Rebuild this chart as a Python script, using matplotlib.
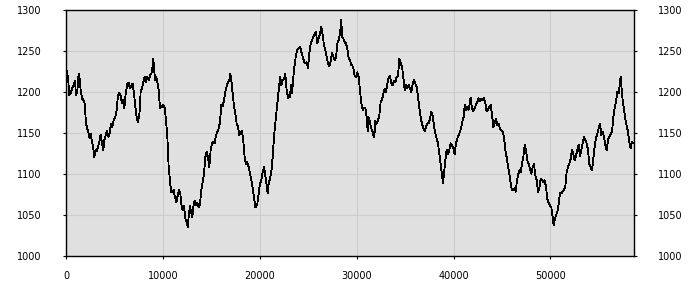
import matplotlib
matplotlib.use('Agg')
import matplotlib.pyplot as plt
import numpy as np

# data, split in six pieces along x
x1 = [0, 206, 344, 482, 619, 826, 929, 1032, 1170, 1307, 1410, 1514, 1651, 1789, 1926, 2064, 2202, 2339, 2442, 2546,
      2683, 2821, 2924, 3062, 3165, 3302, 3440, 3578, 3715, 3853, 3956, 4094, 4232, 4369, 4507, 4644, 4782, 4920, 5092,
      5229, 5366, 5504, 5642, 5779, 5917, 6020, 6158, 6330, 6468, 6605, 6743, 6880, 7018, 7155, 7293, 7396, 7534, 7637,
      7706, 7843, 7981, 8118, 8256, 8394, 8531, 8669, 8806, 8944, 9013, 9116, 9220, 9323, 9426, 9564, 9701]
y1 = [1230, 1218, 1196, 1198, 1204, 1210, 1213, 1196, 1202, 1222, 1216, 1202, 1192, 1190, 1186, 1161, 1155, 1149, 1143,
      1149, 1139, 1131, 1120, 1129, 1127, 1133, 1139, 1148, 1137, 1129, 1141, 1147, 1152, 1145, 1150, 1161, 1157, 1165,
      1169, 1178, 1196, 1199, 1195, 1186, 1190, 1180, 1198, 1210, 1211, 1204, 1208, 1210, 1198, 1182, 1169, 1163, 1169,
      1180, 1202, 1204, 1212, 1218, 1212, 1218, 1214, 1220, 1222, 1231, 1240, 1224, 1214, 1218, 1212, 1202, 1180]

x2 = [9907, 10011, 10183, 10320, 10458, 10595, 10733, 10836, 10974, 11111, 11249, 11387, 11524, 11662, 11799, 11903,
      12040, 12178, 12315, 12453, 12556, 12660, 12797, 12900, 13038, 13141, 13279, 13416, 13554, 13691, 13829, 13967,
      14104, 14242, 14379, 14517, 14655, 14792, 14930, 15067, 15205, 15343, 15480, 15618, 15755, 15893, 16031, 16168,
      16306, 16443, 16581, 16719, 16856, 16959, 17063, 17200, 17338, 17475, 17613, 17751, 17888, 18026, 18163, 18301,
      18439, 18576, 18714, 18851, 18989, 19127, 19264, 19402, 19539]
y2 = [1182, 1184, 1181, 1165, 1145, 1108, 1092, 1078, 1078, 1080, 1071, 1065, 1073, 1080, 1076, 1063, 1055, 1061, 1045,
      1041, 1035, 1047, 1061, 1053, 1047, 1059, 1067, 1061, 1064, 1059, 1063, 1080, 1090, 1100, 1120, 1127, 1120, 1108,
      1129, 1137, 1139, 1137, 1147, 1151, 1155, 1163, 1184, 1182, 1190, 1200, 1207, 1212, 1214, 1222, 1214, 1198, 1182,
      1173, 1161, 1157, 1147, 1150, 1152, 1139, 1120, 1112, 1114, 1108, 1100, 1092, 1082, 1071, 1059]

x3 = [19608, 19746, 19883, 20021, 20158, 20296, 20434, 20571, 20709, 20812, 20915, 21053, 21190, 21328, 21466, 21603,
      21741, 21878, 22016, 22119, 22222, 22360, 22498, 22635, 22773, 22910, 23014, 23117, 23220, 23323, 23461, 23598,
      23736, 23874, 24011, 24149, 24286, 24424, 24562, 24699, 24837, 24974, 25112, 25250, 25387, 25525, 25662, 25800,
      25938, 26075, 26213, 26350, 26488, 26626, 26763, 26901, 27038, 27176, 27314, 27451, 27589, 27726, 27864, 28002,
      28139, 28277, 28414, 28483, 28621, 28758, 28896, 29034, 29171, 29309, 29446]
y3 = [1059, 1063, 1076, 1088, 1092, 1102, 1108, 1098, 1086, 1076, 1088, 1094, 1102, 1120, 1145, 1161, 1178, 1194, 1210,
      1218, 1208, 1214, 1216, 1222, 1202, 1192, 1196, 1194, 1208, 1198, 1218, 1233, 1245, 1251, 1253, 1255, 1249, 1243,
      1237, 1235, 1236, 1229, 1247, 1259, 1263, 1267, 1271, 1273, 1259, 1265, 1271, 1279, 1269, 1257, 1251, 1243, 1235,
      1231, 1237, 1247, 1243, 1239, 1241, 1259, 1263, 1271, 1288, 1267, 1265, 1261, 1259, 1253, 1241, 1239, 1233]

x4 = [29515, 29653, 29790, 29928, 30066, 30203, 30341, 30478, 30616, 30754, 30891, 31029, 31132, 31235, 31373, 31510,
      31648, 31717, 31820, 31923, 32061, 32198, 32336, 32474, 32611, 32749, 32886, 33024, 33162, 33299, 33437, 33574,
      33712, 33849, 33987, 34125, 34262, 34400, 34537, 34675, 34813, 34950, 35088, 35225, 35363, 35501, 35638, 35776,
      35913, 36051, 36189, 36326, 36464, 36601, 36739, 36877, 37014, 37152, 37289, 37427, 37565, 37702, 37840, 37977,
      38115, 38253, 38390, 38528, 38665, 38803, 38906, 39010, 39147, 39285]
y4 = [1233, 1229, 1220, 1218, 1224, 1218, 1202, 1186, 1178, 1180, 1181, 1169, 1152, 1169, 1163, 1155, 1151, 1147, 1145,
      1165, 1161, 1165, 1171, 1188, 1190, 1198, 1204, 1200, 1210, 1218, 1220, 1210, 1208, 1213, 1212, 1218, 1220, 1240,
      1235, 1231, 1218, 1202, 1208, 1204, 1209, 1204, 1200, 1210, 1214, 1210, 1206, 1194, 1180, 1169, 1161, 1155, 1152,
      1157, 1161, 1162, 1167, 1176, 1171, 1159, 1149, 1143, 1137, 1124, 1112, 1098, 1089, 1100, 1116, 1129]

x5 = [39422, 39560, 39698, 39835, 39973, 40110, 40248, 40386, 40523, 40661, 40798, 40936, 41074, 41142, 41280, 41418,
      41555, 41693, 41762, 41899, 42037, 42174, 42312, 42450, 42587, 42725, 42862, 43000, 43138, 43275, 43413, 43550,
      43688, 43826, 43963, 44101, 44238, 44376, 44514, 44651, 44789, 44926, 45064, 45202, 45339, 45477, 45614, 45752,
      45890, 46027, 46165, 46302, 46405, 46508, 46646, 46784, 46921, 47059, 47196, 47334, 47472, 47609, 47747, 47884,
      48022, 48160, 48297, 48435, 48572, 48710, 48848, 48985, 49123, 49260]
y5 = [1124, 1129, 1137, 1135, 1131, 1124, 1137, 1143, 1147, 1151, 1157, 1165, 1171, 1184, 1178, 1182, 1178, 1188, 1193,
      1180, 1176, 1180, 1184, 1188, 1192, 1189, 1191, 1190, 1192, 1186, 1176, 1178, 1182, 1184, 1173, 1157, 1162, 1167,
      1159, 1161, 1155, 1153, 1151, 1145, 1129, 1120, 1110, 1100, 1088, 1080, 1080, 1082, 1078, 1088, 1098, 1104, 1102,
      1112, 1120, 1135, 1129, 1116, 1112, 1106, 1100, 1108, 1112, 1098, 1092, 1078, 1082, 1094, 1092, 1090]

x6 = [49399, 49536, 49674, 49812, 49949, 50087, 50224, 50328, 50431, 50568, 50706, 50844, 50981, 51119, 51256, 51394,
      51532, 51669, 51807, 51944, 52082, 52220, 52357, 52495, 52632, 52770, 52908, 53045, 53183, 53320, 53458, 53596,
      53733, 53871, 54008, 54146, 54284, 54421, 54559, 54696, 54834, 54972, 55109, 55247, 55384, 55522, 55660, 55797,
      55935, 56072, 56210, 56348, 56485, 56623, 56760, 56898, 57036, 57173, 57242, 57311, 57448, 57586, 57724, 57861,
      57999, 58136, 58274, 58412, 58549, 58618]
y6 = [1092, 1084, 1069, 1064, 1061, 1059, 1047, 1037, 1043, 1049, 1053, 1063, 1076, 1076, 1078, 1080, 1084, 1102, 1108,
      1112, 1118, 1129, 1124, 1116, 1122, 1129, 1135, 1122, 1129, 1137, 1145, 1141, 1137, 1129, 1112, 1108, 1104, 1118,
      1133, 1143, 1149, 1155, 1161, 1147, 1151, 1145, 1135, 1129, 1141, 1145, 1148, 1151, 1169, 1180, 1188, 1200, 1198,
      1212, 1218, 1208, 1190, 1178, 1167, 1159, 1151, 1139, 1131, 1139, 1137, 1137]

y_ticks = [1000, 1050, 1100, 1150, 1200, 1250, 1300]
x_ticks = [0, 10000, 20000, 30000, 40000, 50000]

x = np.concatenate([x1, x2, x3, x4, x5, x6])
y = np.concatenate([y1, y2, y3, y4, y5, y6])

fig = plt.figure(figsize=(7, 3), dpi=100)
ax = fig.add_axes([66 / 700, 1 - 255.5 / 300, 568 / 700, 245.5 / 300])
ax.set_facecolor('#e0e0e0')

# the reference line is a 1 px line with no smoothing
ax.plot(x, y, color='black', lw=0.6, antialiased=False)

ax.set_xlim(0, 58620)
ax.set_ylim(1000, 1300)
ax.set_xticks(x_ticks)
ax.set_yticks(y_ticks)
ax.grid(True, color='#cdcdcd', lw=0.8)
ax.set_axisbelow(True)

ax.tick_params(axis='y', left=True, right=True, labelleft=True, labelright=True,
               length=2.5, width=0.8, pad=15, labelsize=7)
ax.tick_params(axis='x', length=2.5, width=0.8, pad=9, labelsize=7)
for s in ax.spines.values():
    s.set_linewidth(1.0)

fig.savefig('out.png', dpi=100)
